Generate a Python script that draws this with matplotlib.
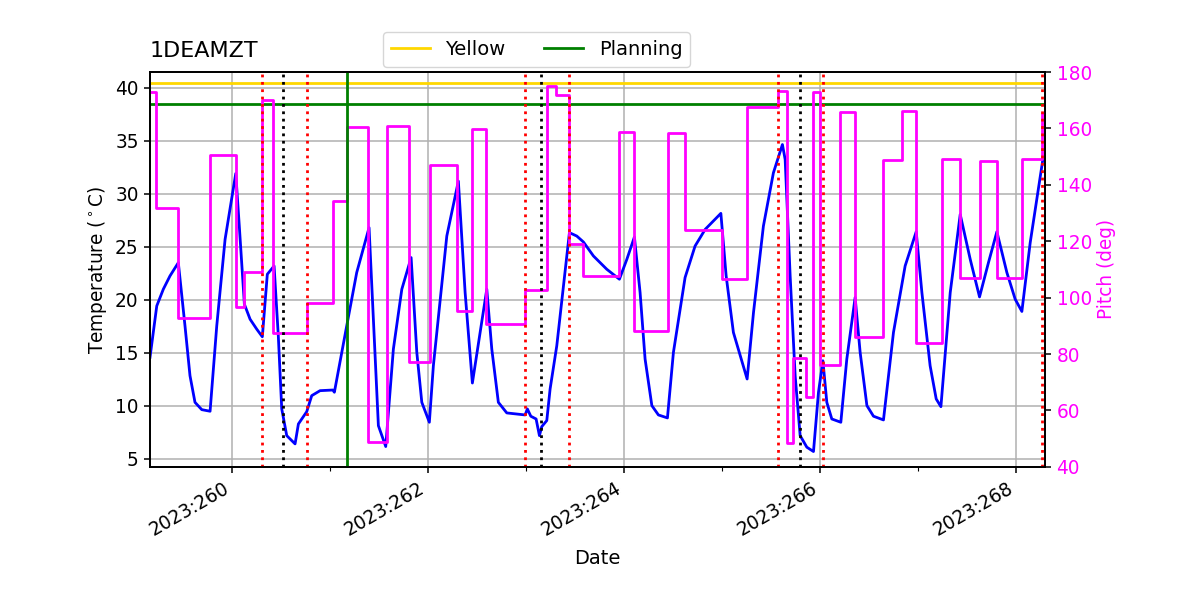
"""Temperature and pitch history for 1DEAMZT."""

from __future__ import annotations

import matplotlib

matplotlib.use("Agg")
import matplotlib.pyplot as plt
from matplotlib.ticker import FuncFormatter, MultipleLocator

MSID = "1DEAMZT"
YEAR = 2023

# day of year (fractional) and temperature (degC)
temp_times = [
    259.163, 259.232, 259.299, 259.367, 259.452, 259.520, 259.571, 259.622, 259.691, 259.776,
    259.844, 259.929, 260.038, 260.074, 260.126, 260.184, 260.252, 260.309, 260.360, 260.429,
    260.472, 260.507, 260.558, 260.643, 260.677, 260.762, 260.813, 260.898, 261.028, 261.044,
    261.170, 261.272, 261.398, 261.442, 261.493, 261.568, 261.646, 261.732, 261.827, 261.885,
    261.936, 262.013, 262.054, 262.191, 262.309, 262.378, 262.452, 262.531, 262.599, 262.650,
    262.717, 262.803, 262.990, 263.013, 263.048, 263.102, 263.136, 263.160, 263.211, 263.245,
    263.313, 263.442, 263.517, 263.585, 263.687, 263.823, 263.952, 264.028, 264.105, 264.163,
    264.214, 264.283, 264.350, 264.442, 264.503, 264.622, 264.724, 264.827, 264.987, 265.041,
    265.115, 265.255, 265.320, 265.421, 265.523, 265.615, 265.643, 265.694, 265.745, 265.796,
    265.864, 265.932, 265.983, 266.028, 266.068, 266.119, 266.211, 266.272, 266.357, 266.408,
    266.477, 266.544, 266.646, 266.748, 266.867, 266.980, 267.038, 267.122, 267.184, 267.232,
    267.327, 267.429, 267.531, 267.626, 267.717, 267.803, 267.905, 267.990, 268.058, 268.143,
    268.272,
]
temp_values = [
    14.57, 19.42, 21.00, 22.25, 23.50, 17.54, 12.84, 10.33, 9.64, 9.49,
    17.54, 25.70, 31.91, 26.95, 19.58, 18.17, 17.23, 16.51, 22.41, 23.19,
    16.60, 9.71, 7.19, 6.41, 8.29, 9.45, 10.96, 11.43, 11.49, 11.28,
    17.54, 22.57, 26.80, 18.17, 8.13, 6.16, 15.35, 20.99, 23.98, 15.04,
    10.33, 8.45, 13.78, 26.01, 31.19, 20.68, 12.15, 16.92, 21.00, 15.35,
    10.33, 9.33, 9.14, 9.71, 9.02, 8.76, 7.19, 8.04, 8.61, 11.59,
    15.66, 26.33, 26.01, 25.45, 24.13, 22.88, 21.94, 23.82, 25.92, 20.68,
    14.41, 10.02, 9.14, 8.86, 15.04, 22.10, 25.07, 26.64, 28.15, 22.25,
    16.92, 12.53, 18.80, 26.95, 31.97, 34.64, 33.23, 22.25, 12.84, 7.19,
    6.10, 5.69, 11.28, 14.25, 10.33, 8.76, 8.45, 14.41, 20.22, 15.04,
    10.02, 9.02, 8.67, 16.92, 23.19, 26.42, 20.68, 13.78, 10.65, 9.92,
    20.68, 28.05, 23.82, 20.27, 23.50, 26.42, 22.57, 20.05, 18.90, 25.39,
    33.23,
]

# pitch (deg) is a step function: each value holds from its time to the next
pitch_times = [
    259.163, 259.224, 259.452, 259.776, 260.041, 260.126, 260.309, 260.421, 260.762, 261.028,
    261.170, 261.391, 261.579, 261.809, 262.020, 262.299, 262.452, 262.589, 262.993, 263.211,
    263.303, 263.436, 263.585, 263.952, 264.102, 264.446, 264.622, 264.997, 265.258, 265.574,
    265.660, 265.728, 265.857, 265.926, 266.000, 266.204, 266.357, 266.646, 266.840, 266.977,
    267.242, 267.429, 267.626, 267.803, 268.058, 268.262, 268.296,
]
pitch_values = [
    173.0, 131.7, 92.9, 150.7, 96.8, 109.1, 170.1, 87.6, 98.2, 134.4,
    160.6, 48.8, 160.9, 77.3, 146.9, 95.3, 159.8, 90.6, 102.7, 175.1,
    172.0, 118.9, 107.5, 158.6, 88.3, 158.3, 124.0, 106.5, 167.7, 173.4,
    48.4, 78.5, 64.9, 173.0, 76.2, 165.9, 86.2, 148.8, 166.3, 83.8,
    149.2, 106.9, 148.6, 106.9, 149.1, 165.4, 165.4,
]

# event markers
red_event_times = [260.309, 260.768, 262.993, 263.442, 265.574, 266.034, 268.262]
black_event_times = [260.517, 263.156, 265.799]
planning_time = 261.170

yellow_limit = 40.45
planning_limit = 38.5

x_limits = (259.163, 268.296)
temp_limits = (4.25, 41.48)
pitch_limits = (40, 180)


def _doy_label(value: float, _pos) -> str:
    return f"{YEAR}:{int(round(value)):03d}"


def main() -> None:
    plt.rcParams.update(
        {
            "font.size": 13.33,
            "axes.linewidth": 1.3,
            "xtick.major.size": 4.67,
            "ytick.major.size": 4.67,
            "xtick.minor.size": 2.67,
            "xtick.major.width": 1.1,
            "ytick.major.width": 1.1,
            "xtick.minor.width": 0.8,
            "grid.linewidth": 1.1,
        }
    )

    fig, ax1 = plt.subplots(figsize=(12, 6), dpi=100)
    fig.subplots_adjust(left=0.125, right=0.871, bottom=0.222, top=0.88)

    ax1.plot(temp_times, temp_values, color="blue", lw=2)
    ax1.axhline(yellow_limit, color="gold", lw=2, label="Yellow")
    ax1.axhline(planning_limit, color="green", lw=2, label="Planning")
    ax1.grid(True)
    ax1.set_xlim(*x_limits)
    ax1.set_ylim(*temp_limits)
    ax1.set_ylabel(r"Temperature ($^\circ$C)")
    ax1.set_xlabel("Date", fontsize=14, labelpad=7)
    ax1.xaxis.set_major_locator(MultipleLocator(2))
    ax1.xaxis.set_minor_locator(MultipleLocator(1))
    ax1.xaxis.set_major_formatter(FuncFormatter(_doy_label))
    plt.setp(ax1.get_xticklabels(), rotation=30, ha="right")
    ax1.set_title(MSID, loc="left", fontsize=16, pad=11)
    ax1.legend(loc="upper center", bbox_to_anchor=(0.432, 1.125), ncol=2, fontsize=14)

    ax2 = ax1.twinx()
    ax2.plot(pitch_times, pitch_values, color="magenta", lw=2, drawstyle="steps-post")
    for t in red_event_times:
        ax2.axvline(t, color="red", ls=":", lw=2)
    for t in black_event_times:
        ax2.axvline(t, color="black", ls=":", lw=2)
    ax2.axvline(planning_time, color="green", lw=2)
    ax2.set_ylim(*pitch_limits)
    ax2.yaxis.set_major_locator(MultipleLocator(20))
    ax2.set_ylabel("Pitch (deg)", color="magenta")
    ax2.tick_params(axis="y", labelcolor="magenta")
    ax2.set_xlim(*x_limits)

    fig.savefig("out.png", dpi=100)
    plt.close(fig)


if __name__ == "__main__":
    main()
